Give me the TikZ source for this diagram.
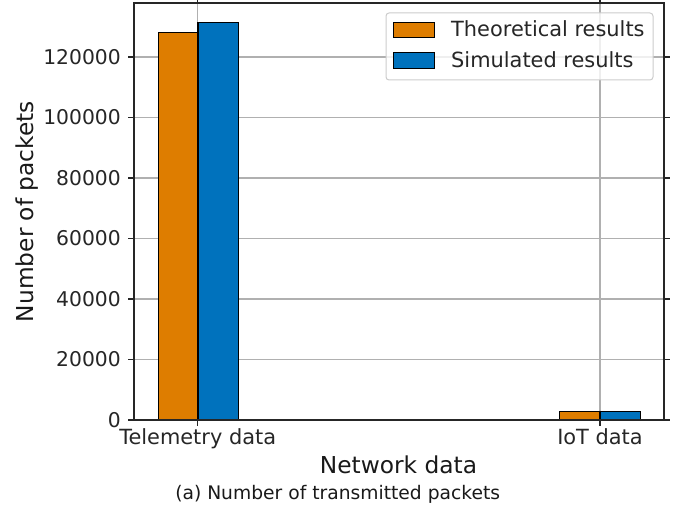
\documentclass[tikz,border=0pt]{standalone}
\usepackage{fontspec}
\setmainfont{DejaVu Sans}
\definecolor{theo}{RGB}{222,125,0}
\definecolor{simu}{RGB}{0,114,189}
\definecolor{gridc}{RGB}{176,176,176}
\definecolor{legedge}{RGB}{204,204,204}
\begin{document}
\begin{tikzpicture}[x=1pt,y=-1pt,
  tickfont/.style={font=\fontsize{20.3}{24}\selectfont, inner sep=0pt, text=black!85},
  wordfont/.style={font=\fontsize{20.9}{25}\selectfont, inner sep=0pt, text=black!85},
  labfont/.style={font=\fontsize{23.3}{28}\selectfont, inner sep=0pt, text=black!90},
  capfont/.style={font=\fontsize{18.7}{23}\selectfont, inner sep=0pt, text=black!90},
  gridline/.style={draw=gridc, line width=1.1pt},
  barbox/.style={draw=black, line width=1.2pt},
  spine/.style={draw=black!85, line width=1.2pt},
  tickmark/.style={draw=black!85, line width=1.1pt},
  legbox/.style={draw=legedge, fill=white, fill opacity=0.8, line width=1pt, rounded corners=3pt}
]
\useasboundingbox (0,0) rectangle (686,508);
% grid
\foreach \k in {1,...,6} {
  \draw[gridline] (134,{420-60.5*\k}) -- (664,{420-60.5*\k});
}
\draw[gridline] (197.7,3) -- (197.7,420);
\draw[gridline] (600,3) -- (600,420);
% bars
\draw[barbox, fill=theo] (158.7,420) rectangle (197.9,32.8);
\draw[barbox, fill=simu] (197.9,420) rectangle (238.7,22.2);
\draw[barbox, fill=theo] (559.3,420) rectangle (600,411.8);
\draw[barbox, fill=simu] (600,420) rectangle (640.3,411.8);
% spines
\draw[spine] (134,3) rectangle (664,420);
% ticks and labels
\foreach \k/\lab in {0/0,1/20000,2/40000,3/60000,4/80000,5/100000,6/120000} {
  \draw[tickmark] (128,{420-60.5*\k}) -- (134,{420-60.5*\k});
  \draw[tickmark] (664,{420-60.5*\k}) -- (669.5,{420-60.5*\k});
  \node[tickfont, anchor=base east] (yl\k) at (121,{427.4-60.5*\k}) {\lab};
}
\foreach \xx in {197.7,600} {
  \draw[tickmark] (\xx,420) -- (\xx,426);
  \draw[tickmark] (\xx,3) -- (\xx,-3);
}
\node[wordfont, anchor=base] (xt1) at (197.7,444.5) {Telemetry data};
\node[wordfont, anchor=base] (xt2) at (600,444.5) {IoT data};
\node[labfont, anchor=base] (xlab) at (398.5,473.3) {Network data};
\node[labfont, anchor=base, rotate=90] (ylab) at (33,211.5) {Number of packets};
\node[capfont, anchor=base] (cap) at (337.7,499) {(a) Number of transmitted packets};
% legend
\draw[legbox] (386,13) rectangle (653,80);
\draw[barbox, line width=1pt, fill=theo] (393,22.7) rectangle (434,37.3);
\draw[barbox, line width=1pt, fill=simu] (393,52.7) rectangle (434,68.3);
\node[wordfont, anchor=base west] (lg1) at (451,37) {Theoretical results};
\node[wordfont, anchor=base west] (lg2) at (451,67.5) {Simulated results};
\end{tikzpicture}
\end{document}
